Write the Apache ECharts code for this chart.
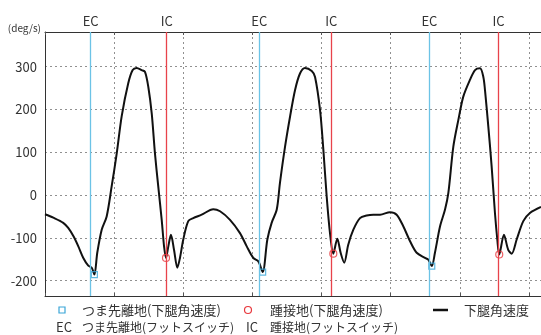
<!DOCTYPE html>
<html><head><meta charset="utf-8">
<script src="https://cdn.jsdelivr.net/npm/echarts@6/dist/echarts.min.js"></script>
<style>html,body{margin:0;padding:0;background:#fff}#c{width:541px;height:335px}</style>
</head><body><div id="c"></div>
<script>
// time (s) and shank angular velocity (deg/s)
const time = [0,0.060,0.132,0.168,0.205,0.241,0.277,0.313,0.338,0.357,0.378,0.410,0.446,0.482,0.519,0.555,0.602,0.634,0.663,0.699,0.723,0.747,0.772,0.795,0.819,0.844,0.861,0.875,0.892,0.911,0.933,0.957,0.976,1.000,1.036,1.072,1.133,1.217,1.266,1.338,1.410,1.459,1.506,1.543,1.574,1.608,1.639,1.676,1.699,1.736,1.772,1.808,1.844,1.880,1.929,1.953,1.989,2.013,2.037,2.061,2.085,2.114,2.138,2.164,2.193,2.230,2.278,2.326,2.374,2.423,2.495,2.543,2.591,2.640,2.688,2.748,2.772,2.797,2.820,2.857,2.893,2.917,2.953,2.989,3.025,3.073,3.110,3.146,3.170,3.182,3.206,3.230,3.254,3.271,3.285,3.319,3.350,3.375,3.411,3.459,3.507,3.587];
const shankVel = [-45,-53,-65,-77,-96,-120,-147,-165,-170,-186,-135,-81,-50,20,98,185,261,292,297,292,288,253,190,98,20,-58,-120,-147,-120,-93,-128,-170,-147,-104,-61,-54,-46,-33,-38,-58,-89,-120,-147,-155,-180,-104,-65,-34,28,113,183,245,284,297,290,276,199,106,-3,-89,-137,-102,-135,-158,-116,-81,-54,-48,-46,-46,-40,-46,-73,-108,-135,-147,-151,-166,-135,-73,-34,5,113,175,230,269,292,296,276,245,160,67,-42,-104,-139,-93,-128,-137,-104,-61,-42,-28];
// toe-off / heel contact detected from shank velocity
const toeOffTime = [0.357,1.574,2.797];
const toeOffVel = [-186,-180,-166];
const heelTime = [0.875,2.085,3.285];
const heelVel = [-147,-137,-139];
// foot switch events
const ecTimes = [0.333,1.550,2.777];
const icTimes = [0.879,2.073,3.278];
const yTicks = [-200,-100,0,100,200,300];

const FONT = '"Noto Sans CJK JP", "Noto Sans", sans-serif';
const BLUE = '#6cc3e6', RED = '#e8434b', BLUE_M = '#3aa6d8', RED_M = '#e8383d';
const GRIDSTYLE = {color:'#909090', type:[2,3], width:1};
const zip = (a,b) => a.map((v,i)=>[v,b[i]]);

const chart = echarts.init(document.getElementById('c'), null, {renderer:'canvas'});
const xCommon = {
  type:'value', min:0, max:3.587, interval:0.5,
  axisLabel:{show:false},
  axisLine:{show:true, onZero:false, lineStyle:{color:'#333', width:1}},
  axisTick:{show:true, inside:true, length:3, lineStyle:{color:'#555'}}
};
chart.setOption({
  animation:false,
  textStyle:{fontFamily:FONT},
  grid:{left:45, right:0, top:32, bottom:39, show:false},
  xAxis:[
    Object.assign({}, xCommon, {position:'bottom', splitLine:{show:true, lineStyle:GRIDSTYLE}}),
    Object.assign({}, xCommon, {position:'top', splitLine:{show:false}})
  ],
  yAxis:{
    type:'value', min:-236, max:381,
    name:'(deg/s)', nameLocation:'end', nameGap:4,
    nameTextStyle:{fontSize:10, color:'#333', align:'right', verticalAlign:'middle', padding:[0,4,0,0], fontFamily:FONT},
    axisLine:{show:true, onZero:false, lineStyle:{color:'#333', width:1}},
    axisTick:{show:false, customValues:yTicks},
    axisLabel:{customValues:yTicks, fontSize:13, color:'#333', margin:8, fontFamily:FONT},
    splitLine:{show:true, lineStyle:GRIDSTYLE}
  },
  series:[
    {
      name:'つま先離地(下腿角速度)', type:'scatter', z:4,
      data: zip(toeOffTime, toeOffVel),
      symbol:'rect', symbolSize:6,
      itemStyle:{color:'transparent', borderColor:BLUE_M, borderWidth:1.2},
      markLine:{
        silent:true, symbol:'none', animation:false,
        lineStyle:{color:BLUE, type:'solid', width:1.3},
        label:{show:true, position:'end', formatter:'EC', fontSize:13, color:'#333', distance:4, fontFamily:FONT},
        data: ecTimes.map(t=>({xAxis:t}))
      }
    },
    {
      name:'踵接地(下腿角速度)', type:'scatter', z:4,
      data: zip(heelTime, heelVel),
      symbol:'circle', symbolSize:7,
      itemStyle:{color:'transparent', borderColor:RED_M, borderWidth:1.2},
      markLine:{
        silent:true, symbol:'none', animation:false,
        lineStyle:{color:RED, type:'solid', width:1.3},
        label:{show:true, position:'end', formatter:'IC', fontSize:13, color:'#333', distance:4, fontFamily:FONT},
        data: icTimes.map(t=>({xAxis:t}))
      }
    },
    {
      name:'下腿角速度', type:'line', z:3,
      data: zip(time, shankVel),
      showSymbol:false, smooth:0.3,
      lineStyle:{color:'#111', width:2}
    }
  ],
  graphic:[
    {type:'rect', shape:{x:59, y:307, width:6, height:6}, style:{fill:'none', stroke:BLUE_M, lineWidth:1.2}},
    {type:'text', x:82, y:310, style:{text:'つま先離地(下腿角速度)', font:'13px '+FONT, fill:'#333', textVerticalAlign:'middle'}},
    {type:'circle', shape:{cx:248, cy:310, r:3.5}, style:{fill:'none', stroke:RED_M, lineWidth:1.2}},
    {type:'text', x:270, y:310, style:{text:'踵接地(下腿角速度)', font:'13px '+FONT, fill:'#333', textVerticalAlign:'middle'}},
    {type:'line', shape:{x1:433, y1:310, x2:448, y2:310}, style:{stroke:'#111', lineWidth:2.5}},
    {type:'text', x:464, y:310, style:{text:'下腿角速度', font:'13px '+FONT, fill:'#333', textVerticalAlign:'middle'}},
    {type:'text', x:56, y:327, style:{text:'EC', font:'13px '+FONT, fill:'#333', textVerticalAlign:'middle'}},
    {type:'text', x:82, y:327, style:{text:'つま先離地(フットスイッチ)', font:'12px '+FONT, fill:'#333', textVerticalAlign:'middle'}},
    {type:'text', x:246, y:327, style:{text:'IC', font:'13px '+FONT, fill:'#333', textVerticalAlign:'middle'}},
    {type:'text', x:270, y:327, style:{text:'踵接地(フットスイッチ)', font:'12px '+FONT, fill:'#333', textVerticalAlign:'middle'}}
  ]
});
</script></body></html>
